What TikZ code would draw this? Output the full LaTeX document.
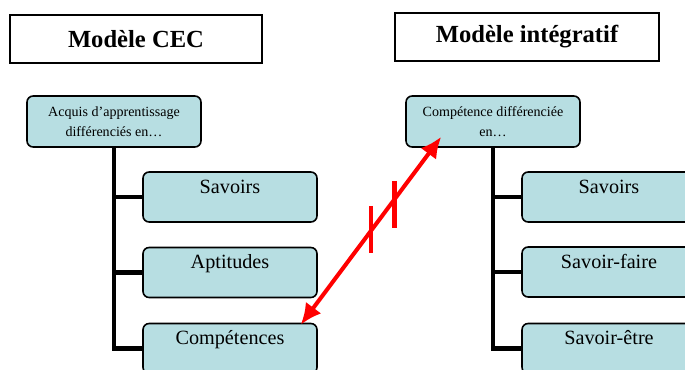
\documentclass[tikz,border=0pt]{standalone}
\usepackage{fontspec}
\setmainfont{Liberation Serif}
\usepackage{tikz}
\usetikzlibrary{arrows.meta,calc,positioning}
\definecolor{boxblue}{RGB}{183,222,226}

\begin{document}
\begin{tikzpicture}[x=0.02cm,y=-0.02cm,
  titlebox/.style={draw,line width=1.1pt,minimum height=0.96cm,font=\fontsize{14}{16}\selectfont\bfseries},
  headbox/.style={draw,line width=0.9pt,rounded corners=3.5pt,fill=boxblue,minimum width=3.48cm,minimum height=1.02cm,align=center,font=\fontsize{8}{11.5}\selectfont},
  itembox/.style={draw,line width=0.9pt,rounded corners=3.5pt,fill=boxblue,minimum width=3.48cm,inner ysep=0pt,text height=0.42cm,text depth=0.58cm,font=\fontsize{11.5}{13}\selectfont},
  trunk/.style={line width=2.8pt},
  link/.style={red,line width=2.3pt,{Latex[length=12pt,width=11pt]}-{Latex[length=12pt,width=11pt]}},
  tickmark/.style={red,line width=2.8pt}]
\clip (0,0) rectangle (685,369);
% titles
\node[titlebox,minimum width=5.04cm] (titleCEC) at (136,39) {Modèle CEC};
\node[titlebox,minimum width=5.28cm] (titleInt) at (527,37) {Modèle intégratif};
% CEC tree
\node[headbox] (acquis) at (114,121.5) {Acquis d’apprentissage\\différenciés en…};
\node[itembox] (savL) at (230,197) {Savoirs};
\node[itembox] (aptL) at (230,272.5) {Aptitudes};
\node[itembox] (compL) at (230,348.5) {Compétences};
\draw[trunk] (acquis.south) |- (compL.west);
\draw[trunk] (acquis.south |- savL.west) -- (savL.west);
\draw[trunk] (acquis.south |- aptL.west) -- (aptL.west);
% integrative tree
\node[headbox] (compdiff) at (493,121.5) {Compétence différenciée\\en…};
\node[itembox] (savR) at (609,197) {Savoirs};
\node[itembox] (sfR) at (609,272) {Savoir-faire};
\node[itembox] (seR) at (609,348.5) {Savoir-être};
\draw[trunk] (compdiff.south) |- (seR.west);
\draw[trunk] (compdiff.south |- savR.west) -- (savR.west);
\draw[trunk] (compdiff.south |- sfR.west) -- (sfR.west);
% broken link
\coordinate (p) at ($(compL.north east)+(-17,2)$);
\coordinate (q) at ($(compdiff.south west)+(36,-11)$);
\draw[link] (p) -- (q);
\draw[tickmark] ($(p)!0.5!(q)+(0,-25)$) -- ++(0,47);
\draw[tickmark] ($(p)!0.67!(q)+(0,-18)$) -- ++(0,47);
\end{tikzpicture}
\end{document}
